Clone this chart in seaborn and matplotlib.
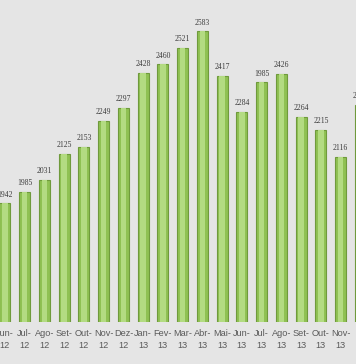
import numpy as np
import pandas as pd
import matplotlib
matplotlib.use("Agg")
from matplotlib import pyplot as plt
import seaborn as sns

# %% Data
months = ["Jun-\n12", "Jul-\n12", "Ago-\n12", "Set-\n12", "Out-\n12", "Nov-\n12", "Dez-\n12",
          "Jan-\n13", "Fev-\n13", "Mar-\n13", "Abr-\n13", "Mai-\n13", "Jun-\n13", "Jul-\n13",
          "Ago-\n13", "Set-\n13", "Out-\n13", "Nov-\n13", "Dez-\n13"]
values = [1942, 1985, 2031, 2125, 2153, 2249, 2297, 2428, 2460, 2521, 2583, 2417,
          2284, 2393, 2426, 2264, 2215, 2116, 2309]
# labels as printed on the chart (Jul-13 reads 1985)
labels = ["1942", "1985", "2031", "2125", "2153", "2249", "2297", "2428", "2460", "2521",
          "2583", "2417", "2284", "1985", "2426", "2264", "2215", "2116", "2309"]

df = pd.DataFrame({"month": months, "value": values})

# %% Plot
bg = "#e5e5e5"
sns.set_style("white")
plt.rcParams["font.family"] = ["Liberation Sans", "DejaVu Sans"]

fig = plt.figure(figsize=(3.56, 3.64), dpi=100)
fig.patch.set_facecolor(bg)
ax = fig.add_axes([0, 42 / 364, 1, 322 / 364])
ax.set_facecolor(bg)

sns.barplot(data=df, x="month", y="value", color="#8fc153", width=0.56,
            edgecolor="#6f9a3c", linewidth=0.8, saturation=1, ax=ax)
# lighter centre strip for the cylinder look
sns.barplot(data=df, x="month", y="value", color="#b3db82", width=0.28,
            linewidth=0, saturation=1, ax=ax)

for i, (v, lab) in enumerate(zip(values, labels)):
    ax.text(i, v + 18, lab, ha="center", va="bottom", fontsize=5.5,
            family="Liberation Serif", color="#3a3a3a")

ax.set_ylim(1500, 2700)
ax.set_xlim(-0.25, 17.78)
ax.set_xlabel("")
ax.set_ylabel("")
ax.set_yticks([])
ax.tick_params(axis="x", length=0, pad=5, labelsize=6.6, labelcolor="#5a5a5a")
for lbl in ax.get_xticklabels():
    lbl.set_linespacing(1.5)
sns.despine(ax=ax, left=True, right=True, top=True, bottom=True)

plt.savefig("out.png", dpi=100, facecolor=bg)
plt.close()
